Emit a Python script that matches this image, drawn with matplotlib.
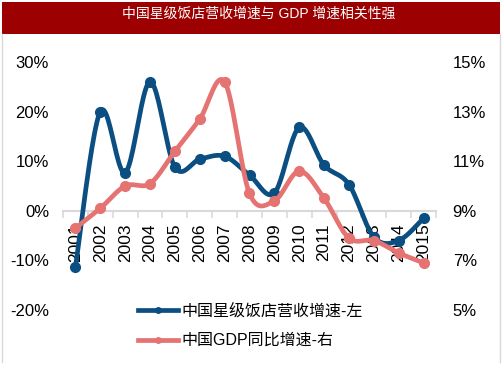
import numpy as np
import matplotlib
matplotlib.use("Agg")
import matplotlib.pyplot as plt
from matplotlib.patches import Rectangle
from matplotlib.lines import Line2D

years = [str(y) for y in range(2001, 2016)]
hotel = [-11.3, 20.0, 7.7, 26.0, 8.8, 10.4, 11.0, 7.2, 3.6, 16.8, 9.2, 5.3, -5.3, -6.0, -1.5]
gdp = [8.3, 9.1, 10.0, 10.1, 11.4, 12.7, 14.2, 9.7, 9.4, 10.6, 9.5, 7.9, 7.8, 7.3, 6.9]
left_ticks = [-20, -10, 0, 10, 20, 30]
right_ticks = [5, 7, 9, 11, 13, 15]

title = "中国星级饭店营收增速与 GDP 增速相关性强"
lab_hotel = "中国星级饭店营收增速-左"
lab_gdp = "中国GDP同比增速-右"

BLUE = "#0b4f82"
RED = "#e57372"
GRID = "#d9d9d9"
FONT = ["Liberation Sans", "Noto Sans CJK SC", "DejaVu Sans"]
plt.rcParams["font.family"] = FONT


def smooth(x, y, n=24):
    # excel-style smoothed line: cubic bezier through the points
    p = np.column_stack([x, y]).astype(float)
    ext = np.vstack([p[0], p, p[-1]])
    t = np.linspace(0, 1, n)[:, None]
    out = []
    for i in range(len(p) - 1):
        p0, p1, p2, p3 = ext[i], ext[i + 1], ext[i + 2], ext[i + 3]
        c1 = p1 + (p2 - p0) / 6
        c2 = p2 - (p3 - p1) / 6
        seg = (1 - t) ** 3 * p1 + 3 * (1 - t) ** 2 * t * c1 + 3 * (1 - t) * t ** 2 * c2 + t ** 3 * p2
        out.append(seg if i == 0 else seg[1:])
    out = np.vstack(out)
    return out[:, 0], out[:, 1]


fig = plt.figure(figsize=(5.03, 3.78), dpi=100)
W, H = 503, 378

# title bar and frame
fig.patches.append(Rectangle((2 / W, 1 - 34 / H), 498 / W, 32 / H, transform=fig.transFigure,
                             facecolor="#9c0000", edgecolor="none"))
fig.text(259 / W, 1 - 14 / H, title, color="white", fontsize=10, ha="center", va="center")
for xf in (2 / W, 500 / W):
    fig.add_artist(Line2D([xf, xf], [1 - 34 / H, 1 - 362 / H], transform=fig.transFigure,
                          color=GRID, lw=1))

ax = fig.add_axes([63 / W, 1 - 310 / H, (436 - 63) / W, (310 - 62) / H])
x = np.arange(1, len(years) + 1)

sx, sy = smooth(x, hotel)
ax.plot(sx, sy, color=BLUE, lw=3.4, solid_capstyle="round", zorder=3)
ax.plot(x, hotel, "o", color=BLUE, ms=7, zorder=3)
ax.set_xlim(0.5, len(years) + 0.5)
ax.set_ylim(-20, 30)
ax.set_yticks(left_ticks)
ax.set_yticklabels([f"{v}%" for v in left_ticks])

for s in ("top", "left", "right"):
    ax.spines[s].set_visible(False)
ax.spines["bottom"].set_position(("data", 0))
ax.spines["bottom"].set_color(GRID)
ax.spines["bottom"].set_linewidth(1.5)
ax.set_xticks(x)
ax.set_xticklabels(years, rotation=90, fontsize=12.5)
ax.set_xticks(np.arange(0.5, len(years) + 1), minor=True)
ax.tick_params(axis="x", which="major", length=0, pad=9)
ax.tick_params(axis="x", which="minor", length=5, width=1.2, color=GRID)
ax.tick_params(axis="y", length=0, pad=10, labelsize=12)

ax2 = ax.twinx()
gx, gy = smooth(x, gdp)
ax2.plot(gx, gy, color=RED, lw=3.4, solid_capstyle="round")
ax2.plot(x, gdp, "o", color=RED, ms=7)
ax2.set_ylim(5, 15)
ax2.set_yticks(right_ticks)
ax2.set_yticklabels([f"{v}%" for v in right_ticks])
ax2.tick_params(axis="y", length=0, pad=12, labelsize=12)
for s in ax2.spines.values():
    s.set_visible(False)

handles = [Line2D([], [], color=BLUE, lw=3.4, marker="o", ms=4),
           Line2D([], [], color=RED, lw=3.4, marker="o", ms=4)]
fig.legend(handles, [lab_hotel, lab_gdp], loc="upper left", bbox_to_anchor=(124 / W, 1 - 289 / H),
           frameon=False, fontsize=11.5, handlelength=2.5, handletextpad=0.2, labelspacing=0.9)

fig.savefig("out.png", dpi=100)
